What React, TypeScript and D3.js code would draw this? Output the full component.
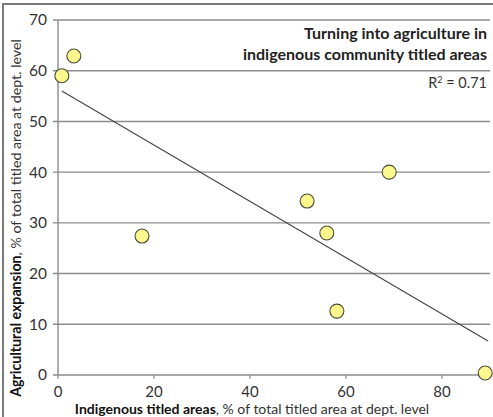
import * as d3 from "d3"

const indigenousShare = [0.8, 3.3, 17.5, 51.9, 56.0, 58.1, 69.0, 89.0]
const agriExpansion = [59.0, 62.9, 27.4, 34.3, 28.0, 12.6, 40.0, 0.4]
const trendX = [0.8, 89.6]
const trendY = [56.0, 6.7]
const xTicks = [0, 20, 40, 60, 80]
const yTicks = [0, 10, 20, 30, 40, 50, 60, 70]
const titleLines = ["Turning into agriculture in", "indigenous community titled areas"]
const rSquared = "0.71"

const W = 493
const H = 417
const margin = { top: 20, right: 3, bottom: 42, left: 58 }
const FONT = "Lato, 'Open Sans', sans-serif"

export default function App() {
  const x = d3.scaleLinear().domain([0, 90]).range([margin.left, W - margin.right])
  const y = d3.scaleLinear().domain([0, 70]).range([H - margin.bottom, margin.top])
  const line = d3
    .line<number>()
    .x((_, i) => x(trendX[i]))
    .y((d) => y(d))

  return (
    <svg
      width={W}
      height={H}
      style={{ position: "absolute", left: 0, top: 0, background: "#fff" }}
      fontFamily={FONT}
    >
      {/* outer frame */}
      <rect x={3} y={4} width={W + 10} height={H + 10} fill="none" stroke="#7a7a7a" strokeWidth={2} />

      {/* gridlines + y ticks */}
      {yTicks.map((t) => (
        <g key={t}>
          <line x1={x(0) - 5} x2={x(90)} y1={y(t)} y2={y(t)} stroke="#8c8c8c" strokeWidth={1.4} />
          <text x={47} y={y(t)} dy="0.35em" textAnchor="end" fontSize={15.5} fill="#333">
            {t}
          </text>
        </g>
      ))}

      {/* y axis line */}
      <line x1={x(0)} x2={x(0)} y1={y(70)} y2={y(0)} stroke="#8c8c8c" strokeWidth={1.4} />

      {/* x ticks */}
      {xTicks.map((t) => (
        <g key={t}>
          <line x1={x(t)} x2={x(t)} y1={y(0)} y2={y(0) + 4} stroke="#8c8c8c" strokeWidth={1.2} />
          <text x={x(t)} y={397} textAnchor="middle" fontSize={15} fill="#333">
            {t}
          </text>
        </g>
      ))}

      {/* trend line */}
      <path d={line(trendY) ?? ""} fill="none" stroke="#444" strokeWidth={1.1} />

      {/* points */}
      {indigenousShare.map((v, i) => (
        <circle key={i} cx={x(v)} cy={y(agriExpansion[i])} r={7} fill="#fbf78c" stroke="#4a4a3a" strokeWidth={1.1} />
      ))}

      {/* title */}
      {titleLines.map((l, i) => (
        <text key={l} x={487} y={39 + i * 21} textAnchor="end" fontSize={16} fontWeight={700} fill="#222">
          {l}
        </text>
      ))}
      <text x={487} y={88} textAnchor="end" fontSize={14.5} fill="#333">
        R<tspan dy={-5} fontSize={9}>2</tspan>
        <tspan dy={5}> = {rSquared}</tspan>
      </text>

      {/* axis titles */}
      <text x={252} y={414} textAnchor="middle" fontSize={14} fill="#333">
        <tspan fontWeight={700} fill="#111">Indigenous titled areas</tspan>, % of total titled area at dept. level
      </text>
      <text transform={`translate(21,218) rotate(-90)`} textAnchor="middle" fontSize={14.2} fill="#333">
        <tspan fontWeight={700} fill="#111">Agricultural expansion</tspan>, % of total titled area at dept. level
      </text>
    </svg>
  )
}
